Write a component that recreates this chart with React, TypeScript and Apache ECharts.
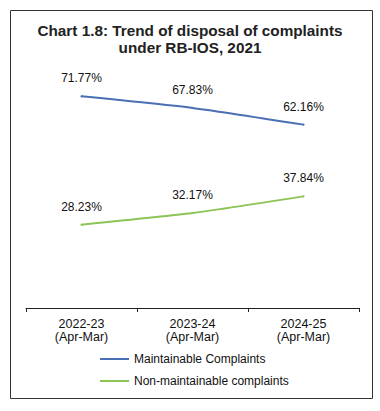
import React, { useEffect, useRef } from "react";
import * as echarts from "echarts";

const categories = ["2022-23\n(Apr-Mar)", "2023-24\n(Apr-Mar)", "2024-25\n(Apr-Mar)"];
const maintainable = [71.77, 67.83, 62.16];
const nonMaintainable = [28.23, 32.17, 37.84];
const seriesNames = ["Maintainable Complaints", "Non-maintainable complaints"];
const titleText = "Chart 1.8: Trend of disposal of complaints\nunder RB-IOS, 2021";

export default function App() {
  const ref = useRef<HTMLDivElement>(null);
  useEffect(() => {
    if (!ref.current) return;
    const chart = echarts.init(ref.current, undefined, { renderer: "svg" });
    const font = "Liberation Sans, Arial, sans-serif";
    const labelCfg = {
      show: true,
      position: "top",
      distance: 11,
      formatter: (p: any) => p.value.toFixed(2) + "%",
      fontSize: 12,
      color: "#111",
      fontFamily: font,
    };
    const blue = "#4a6fb5";
    const green = "#8cc455";
    chart.setOption({
      animation: false,
      backgroundColor: "#fff",
      textStyle: { fontFamily: font },
      title: {
        text: titleText,
        left: "center",
        top: 17,
        textStyle: { fontSize: 15.3, fontWeight: "bold", color: "#222", lineHeight: 17, fontFamily: font },
      },
      graphic: [
        {
          type: "rect",
          shape: { x: 10.5, y: 10.5, width: 362, height: 388 },
          style: { fill: "none", stroke: "#333", lineWidth: 1 },
          silent: true,
        },
      ],
      legend: {
        orient: "vertical",
        left: 95,
        top: 348,
        itemWidth: 29,
        itemHeight: 2,
        itemGap: 10,
        icon: "rect",
        textStyle: { fontSize: 12, color: "#111", fontFamily: font },
        data: [
          { name: seriesNames[0], itemStyle: { color: blue } },
          { name: seriesNames[1], itemStyle: { color: green } },
        ],
      },
      grid: { left: 26, right: 21, top: 72, bottom: 103 },
      xAxis: {
        type: "category",
        data: categories,
        boundaryGap: true,
        axisLine: { lineStyle: { color: "#222", width: 1 } },
        axisTick: { show: true, length: 4, lineStyle: { color: "#222" } },
        axisLabel: { fontSize: 12.5, color: "#111", lineHeight: 13.5, margin: 9, fontFamily: font },
      },
      yAxis: {
        type: "value",
        min: 0,
        max: 80,
        show: false,
        splitLine: { show: false },
      },
      series: [
        {
          name: seriesNames[0],
          type: "line",
          data: maintainable,
          smooth: 0.2,
          symbol: "circle",
          symbolSize: 2,
          showSymbol: true,
          lineStyle: { color: blue, width: 2 },
          itemStyle: { color: blue },
          label: labelCfg,
        },
        {
          name: seriesNames[1],
          type: "line",
          data: nonMaintainable,
          smooth: 0.2,
          symbol: "circle",
          symbolSize: 2,
          showSymbol: true,
          lineStyle: { color: green, width: 2 },
          itemStyle: { color: green },
          label: labelCfg,
        },
      ],
    });
    return () => chart.dispose();
  }, []);
  return (
    <div
      ref={ref}
      style={{ position: "fixed", left: 0, top: 0, width: 380, height: 411 }}
    />
  );
}
